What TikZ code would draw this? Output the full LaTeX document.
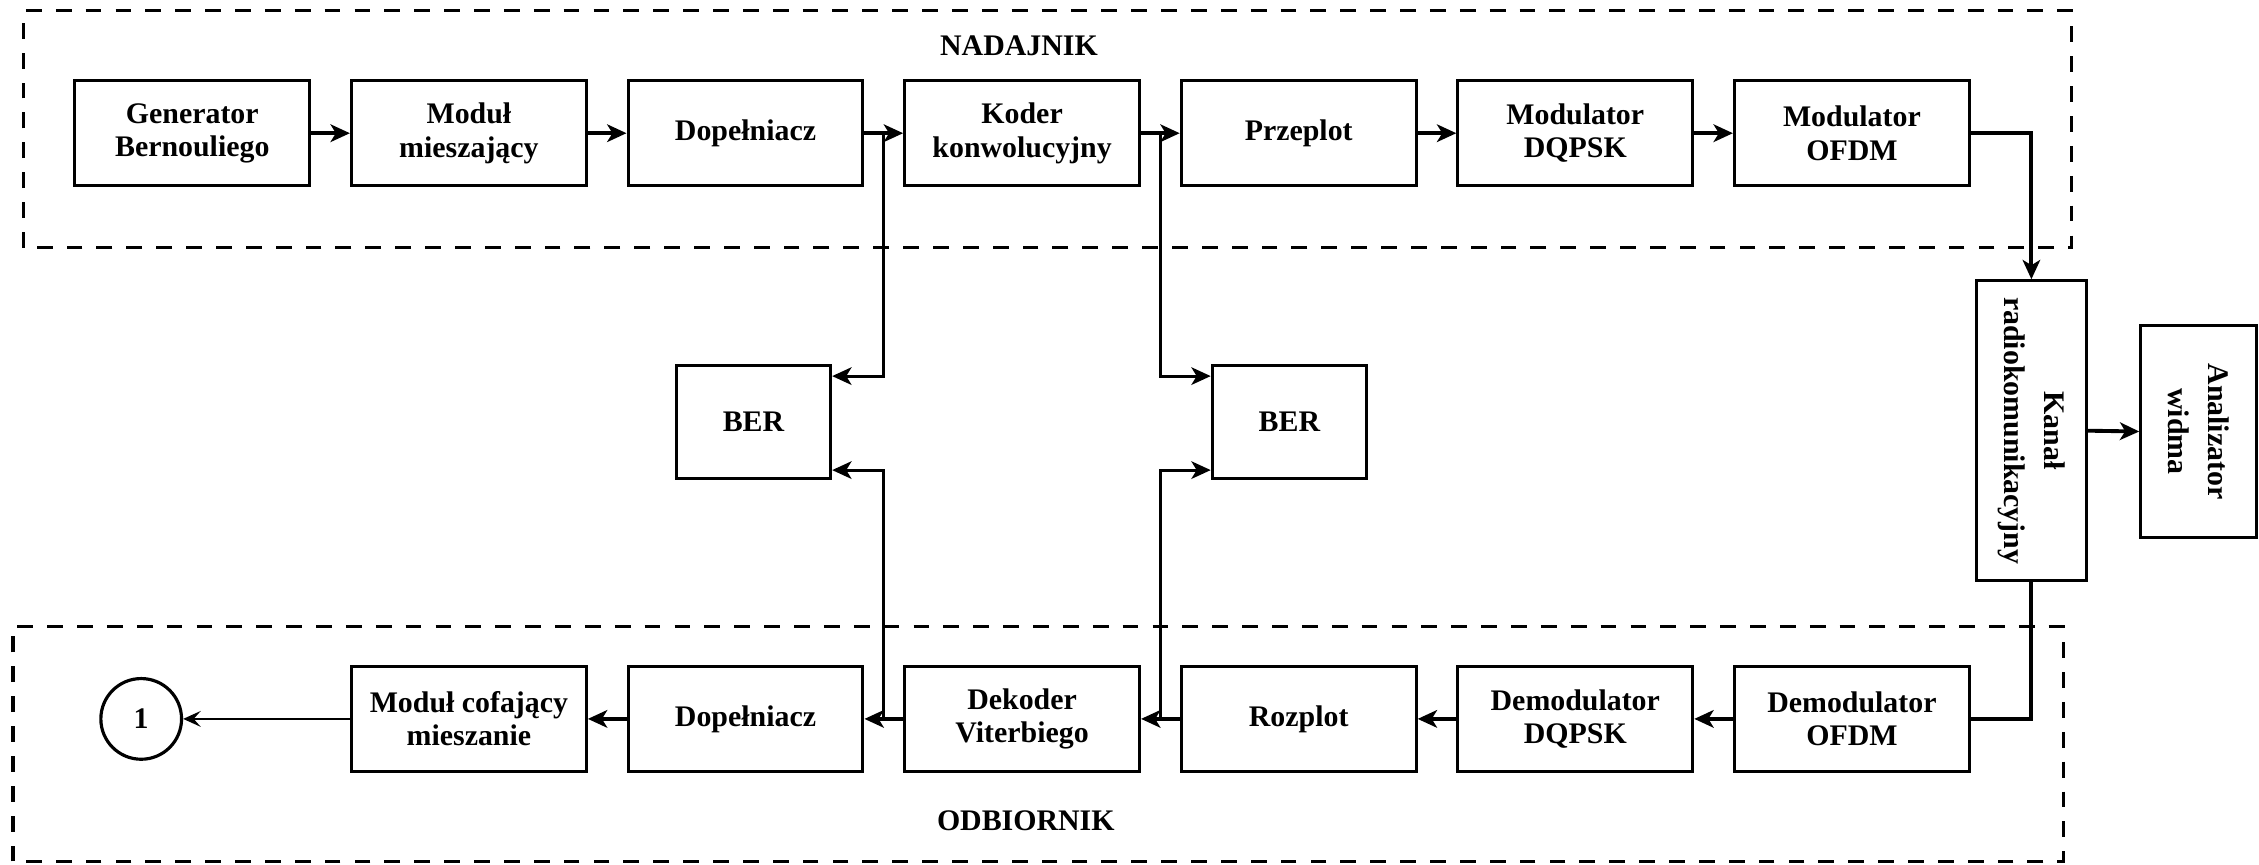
\documentclass[tikz,border=0pt]{standalone}
\usepackage{fontspec}
\setmainfont{Liberation Serif}
\usepackage{tikz}
\tikzset{>=latex}
\usetikzlibrary{arrows.meta, calc}

\tikzset{
  blok/.style={draw, line width=0.9pt, minimum width=2.348cm, minimum height=1.052cm,
    align=center, inner sep=1pt, font=\bfseries\fontsize{8.5}{9.5}\selectfont},
  pion/.style={blok, rotate=-90, font=\bfseries\fontsize{8.5}{11.5}\selectfont},
  strz/.style={line width=1.1pt, -{Stealth[length=5.5pt,width=5pt,inset=1.5pt]}},
  odg/.style={line width=0.8pt, -{Stealth[length=5.5pt,width=5pt,inset=1.5pt]}},
  ramka/.style={line width=0.9pt, dash pattern=on 4.5pt off 4pt},
  napis/.style={font=\bfseries\fontsize{8.5}{9.5}\selectfont},
}

\begin{document}
\begin{tikzpicture}
   \useasboundingbox (0,0) rectangle (22.59,8.644);

   % nadajnik
   \draw[ramka] (0.238,6.166) rectangle (20.717,8.535);
   \node[napis] (nad) at (10.19,8.183) {NADAJNIK};
   \foreach \i/\nm/\txt in {0/gen/{Generator\\Bernouliego}, 1/mies/{Moduł\\mieszający},
       2/dop/Dopełniacz, 3/kod/{Koder\\konwolucyjny}, 4/prz/Przeplot,
       5/mdq/{Modulator\\DQPSK}, 6/mof/{Modulator\\OFDM}}{
     \node[blok] (\nm) at ({1.923+2.766*\i},7.312) {\txt};
   }
   \foreach \a/\b in {gen/mies, mies/dop, dop/kod, kod/prz, prz/mdq, mdq/mof}{
     \draw[strz] (\a) -- (\b);
   }

   % kanal i analizator
   \node[pion, minimum width=2.997cm, minimum height=1.095cm] (kanal) at (20.314,4.337) {Kanał\\radiokomunikacyjny};
   \node[pion, minimum width=2.118cm, minimum height=1.153cm] (anal) at (21.985,4.329) {Analizator\\widma};
   \draw[strz] (mof.east) -| (kanal.west);
   \draw[strz] (kanal.north) -- (anal.south);

   % odbiornik
   \draw[ramka] (0.130,0.03) rectangle (20.631,2.377);
   \node[napis] (odb) at (10.258,0.432) {ODBIORNIK};
   \foreach \i/\nm/\txt in {6/dof/{Demodulator\\OFDM}, 5/ddq/{Demodulator\\DQPSK},
       4/roz/Rozplot, 3/vit/{Dekoder\\Viterbiego}, 2/dop2/Dopełniacz,
       1/cof/{Moduł cofający\\mieszanie}}{
     \node[blok] (\nm) at ({1.923+2.766*\i},1.455) {\txt};
   }
   \foreach \a/\b in {dof/ddq, ddq/roz, roz/vit, vit/dop2, dop2/cof}{
     \draw[strz] (\a) -- (\b);
   }
   \draw[line width=1.1pt] (kanal.east) |- (dof.east);
   \node[draw, circle, line width=0.9pt, minimum size=0.807cm, inner sep=0pt, napis] (wyj) at (1.412,1.455) {1};
   \draw[line width=0.6pt, -{Stealth[length=5pt,width=4.5pt,inset=2pt]}] (cof) -- (wyj);

   % BER
   \node[blok, minimum width=1.542cm, minimum height=1.124cm] (ber1) at (7.535,4.423) {BER};
   \node[blok, minimum width=1.542cm, minimum height=1.124cm] (ber2) at (12.894,4.423) {BER};
   \coordinate (r1) at ($(dop.east)!0.5!(kod.west)$);
   \coordinate (r2) at ($(kod.east)!0.5!(prz.west)$);
   \coordinate (r3) at ($(dop2.east)!0.5!(vit.west)$);
   \coordinate (r4) at ($(vit.east)!0.5!(roz.west)$);
   \draw[odg] (r1) |- ([yshift=0.46cm]ber1.east);
   \draw[odg] (r3) |- ([yshift=-0.48cm]ber1.east);
   \draw[odg] (r2) |- ([yshift=0.46cm]ber2.west);
   \draw[odg] (r4) |- ([yshift=-0.48cm]ber2.west);

\end{tikzpicture}
\end{document}
